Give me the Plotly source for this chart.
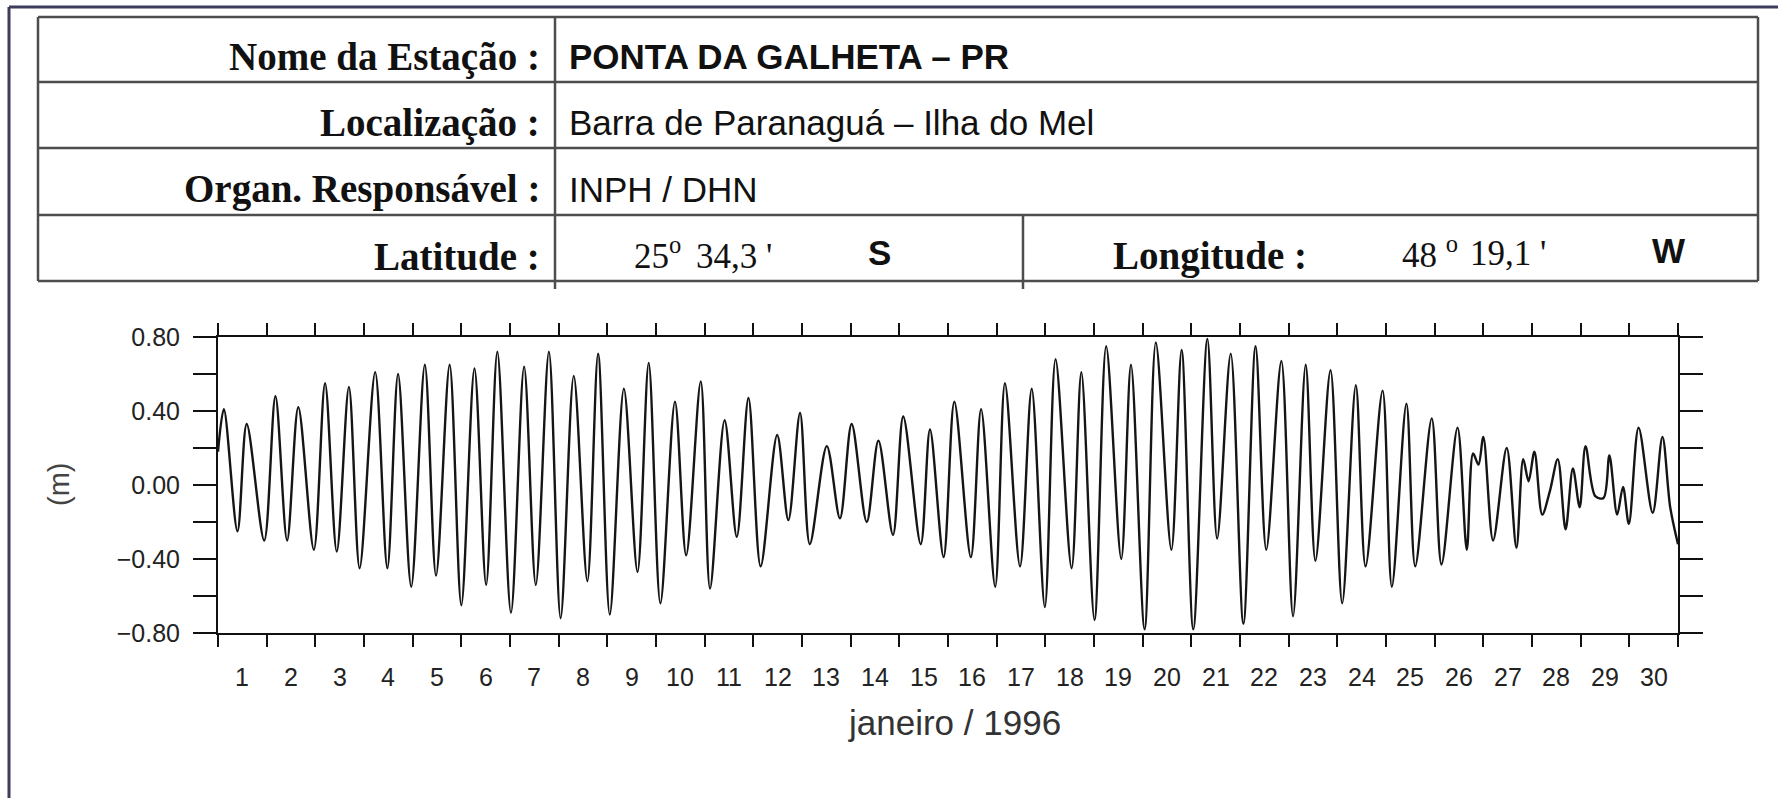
import plotly.graph_objects as go

# ---- station header table ----
row_labels = ["Nome da Estação :", "Localização :", "Organ. Responsável :", "Latitude :"]
row_values = ["PONTA DA GALHETA – PR", "Barra de Paranaguá – Ilha do Mel", "INPH / DHN"]
lat_parts = ["25<sup>o</sup>", "34,3 '", "S"]
lon_label = "Longitude :"
lon_parts = ["48 <sup>o</sup>", "19,1 '", "W"]

# ---- tide record, turning points ----
# day = days since 1 Jan 1996 00h, height in metres
tide_day = [
    0.00, 0.12, 0.40, 0.59, 0.95, 1.18, 1.42, 1.65, 1.97, 2.20, 2.44, 2.69, 2.91,
    3.23, 3.48, 3.70, 3.97, 4.25, 4.48, 4.76, 5.00, 5.27, 5.51, 5.74, 6.02, 6.29,
    6.53, 6.80, 7.04, 7.31, 7.59, 7.81, 8.05, 8.34, 8.62, 8.85, 9.09, 9.39, 9.62,
    9.92, 10.11, 10.41, 10.66, 10.90, 11.15, 11.49, 11.72, 11.96, 12.16, 12.51,
    12.78, 13.02, 13.33, 13.57, 13.87, 14.08, 14.44, 14.63, 14.91, 15.13, 15.47,
    15.68, 15.97, 16.17, 16.48, 16.72, 16.99, 17.21, 17.54, 17.74, 18.01, 18.25,
    18.56, 18.76, 19.04, 19.27, 19.59, 19.80, 20.04, 20.33, 20.53, 20.81, 21.07,
    21.32, 21.54, 21.85, 22.09, 22.35, 22.55, 22.86, 23.10, 23.38, 23.58, 23.93,
    24.12, 24.42, 24.60, 24.94, 25.14, 25.47, 25.66, 25.79, 25.90, 26.00, 26.20,
    26.48, 26.68, 26.82, 26.93, 27.05, 27.21, 27.37, 27.53, 27.69, 27.84, 27.98,
    28.10, 28.30, 28.47, 28.59, 28.75, 28.87, 28.99, 29.19, 29.48, 29.68, 29.84,
    30.00,
]
tide_height = [
    0.18, 0.41, -0.25, 0.33, -0.30, 0.48, -0.30, 0.42, -0.35, 0.55, -0.36, 0.53, -0.45,
    0.61, -0.45, 0.60, -0.55, 0.65, -0.49, 0.65, -0.65, 0.63, -0.54, 0.72, -0.69, 0.64,
    -0.54, 0.72, -0.72, 0.59, -0.52, 0.71, -0.70, 0.52, -0.47, 0.66, -0.64, 0.45, -0.38,
    0.56, -0.56, 0.35, -0.28, 0.47, -0.44, 0.27, -0.19, 0.39, -0.32, 0.21,
    -0.18, 0.33, -0.20, 0.24, -0.27, 0.37, -0.32, 0.30, -0.39, 0.45, -0.39,
    0.41, -0.55, 0.55, -0.44, 0.52, -0.66, 0.68, -0.45, 0.61, -0.73, 0.75,
    -0.40, 0.65, -0.78, 0.77, -0.35, 0.73, -0.78, 0.79, -0.29, 0.71, -0.75,
    0.75, -0.35, 0.67, -0.71, 0.65, -0.41, 0.62, -0.64, 0.54, -0.44, 0.51,
    -0.55, 0.44, -0.44, 0.36, -0.43, 0.31, -0.35, 0.17, 0.11, 0.26, -0.30,
    0.20, -0.34, 0.14, 0.02, 0.18, -0.16, -0.03, 0.14, -0.24, 0.09, -0.12,
    0.21, -0.06, -0.07, 0.16, -0.16, -0.01, -0.21, 0.31, -0.15, 0.26, -0.12,
    -0.32,
]

day_labels = [str(d) for d in range(1, 31)]
day_edges = list(range(0, 31))
y_ticks = [-0.8, -0.4, 0.0, 0.4, 0.8]
y_ticktext = ["\u22120.80", "\u22120.40", "0.00", "0.40", "0.80"]

W, H = 1778, 798
L, R, T, B = 218, 1678, 337, 633


def fx(px):
    return (px - L) / (R - L)


def fy(py):
    return (B - py) / (B - T)


fig = go.Figure()
fig.add_trace(go.Scatter(
    x=tide_day, y=tide_height, mode="lines",
    line=dict(color="#151515", width=2.4, shape="spline", smoothing=0.9),
    hoverinfo="skip", showlegend=False,
))

tick_font = dict(family="Liberation Sans, Arial", size=25, color="#222")
fig.update_xaxes(
    range=[0, 30], tickvals=day_edges, showticklabels=False,
    ticks="outside", ticklen=12, tickwidth=2, tickcolor="#111",
    showline=True, linewidth=2, linecolor="#111", mirror="allticks",
    showgrid=False, zeroline=False,
)
fig.update_yaxes(
    range=[-0.8, 0.8], tickvals=y_ticks, ticktext=y_ticktext,
    ticks="outside", ticklen=23, tickwidth=2, tickcolor="#111",
    minor=dict(dtick=0.2, tick0=0, ticks="outside", ticklen=23, tickwidth=2, tickcolor="#111"),
    showline=True, linewidth=2, linecolor="#111", mirror="allticks",
    showgrid=False, zeroline=False, tickfont=tick_font, ticklabelstandoff=8,
)

shapes = []
line_col = "#4d4d4d"
# outer frame (left and top)
frame = dict(type="line", xref="paper", yref="paper", line=dict(color="#3d3d5c", width=3))
shapes.append(dict(frame, x0=fx(9), x1=fx(9), y0=fy(7), y1=fy(798)))
shapes.append(dict(frame, x0=fx(9), x1=fx(1778), y0=fy(7), y1=fy(7)))
# table grid
rows_y = [17, 82, 148, 215, 281]
grid = dict(type="line", xref="paper", yref="paper", line=dict(color=line_col, width=2.5))
for yy in rows_y:
    shapes.append(dict(grid, x0=fx(38), x1=fx(1758), y0=fy(yy), y1=fy(yy)))
shapes.append(dict(grid, x0=fx(38), x1=fx(38), y0=fy(17), y1=fy(281)))
shapes.append(dict(grid, x0=fx(1758), x1=fx(1758), y0=fy(17), y1=fy(281)))
shapes.append(dict(grid, x0=fx(555), x1=fx(555), y0=fy(17), y1=fy(289)))
shapes.append(dict(grid, x0=fx(1023), x1=fx(1023), y0=fy(215), y1=fy(289)))

ann = []
serif_b = dict(family="Liberation Serif, Times New Roman", size=39, color="#111")
sans_b = dict(family="Liberation Sans, Arial", size=35, color="#111")
sans_r = dict(family="Liberation Sans, Arial", size=35, color="#111")
serif_r = dict(family="Liberation Serif, Times New Roman", size=35, color="#111")
row_mid = [57, 123, 189, 256]
for lab, ym in zip(row_labels, row_mid):
    ann.append(dict(text="<b>%s</b>" % lab, x=fx(542), y=fy(ym), xanchor="right", yanchor="middle", font=serif_b))
for i, (val, ym) in enumerate(zip(row_values, row_mid)):
    txt = "<b>%s</b>" % val if i == 0 else val
    ann.append(dict(text=txt, x=fx(567), y=fy(ym), xanchor="left", yanchor="middle", font=sans_b if i == 0 else sans_r))
# latitude / longitude pieces
ann.append(dict(text=lat_parts[0], x=fx(632), y=fy(254), xanchor="left", yanchor="middle", font=serif_r))
ann.append(dict(text=lat_parts[1], x=fx(694), y=fy(256), xanchor="left", yanchor="middle", font=serif_r))
ann.append(dict(text="<b>%s</b>" % lat_parts[2], x=fx(866), y=fy(252), xanchor="left", yanchor="middle", font=sans_b))
ann.append(dict(text="<b>%s</b>" % lon_label, x=fx(1111), y=fy(256), xanchor="left", yanchor="middle", font=serif_b))
ann.append(dict(text=lon_parts[0], x=fx(1400), y=fy(252), xanchor="left", yanchor="middle", font=serif_r))
ann.append(dict(text=lon_parts[1], x=fx(1468), y=fy(254), xanchor="left", yanchor="middle", font=serif_r))
ann.append(dict(text="<b>%s</b>" % lon_parts[2], x=fx(1650), y=fy(250), xanchor="left", yanchor="middle", font=sans_b))

# day labels centred in each day
for d, lab in zip(day_edges[:-1], day_labels):
    ann.append(dict(text=lab, x=d + 0.5, xref="x", y=fy(677), yref="paper",
                    xanchor="center", yanchor="middle", font=tick_font))
# axis titles
ann.append(dict(text="janeiro / 1996", x=fx(955), y=fy(722), xanchor="center", yanchor="middle",
                font=dict(family="Liberation Sans, Arial", size=35, color="#333")))
ann.append(dict(text="(m)", x=fx(59), y=fy(485), xanchor="center", yanchor="middle", textangle=-90,
                font=dict(family="Liberation Sans, Arial", size=29, color="#444")))
for a in ann:
    a.setdefault("xref", "paper")
    a.setdefault("yref", "paper")
    a["showarrow"] = False

fig.update_layout(
    width=W, height=H,
    margin=dict(l=L, r=W - R, t=T, b=H - B, pad=0),
    paper_bgcolor="white", plot_bgcolor="white",
    shapes=shapes, annotations=ann, showlegend=False,
)

fig.write_html("out.html", config={"displayModeBar": False},
               post_script="document.body.style.margin='0';")
